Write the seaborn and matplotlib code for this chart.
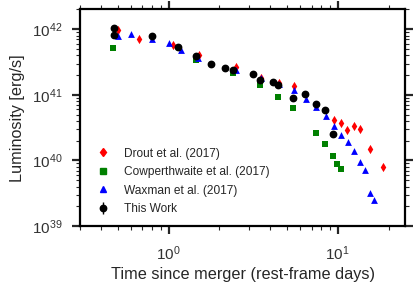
import numpy as np
import pandas as pd
import matplotlib
matplotlib.use("Agg")
import matplotlib.pyplot as plt
import seaborn as sns
from matplotlib.lines import Line2D

sns.set_style("ticks")
plt.rcParams["font.family"] = ["Liberation Sans", "DejaVu Sans"]
plt.rcParams["mathtext.fontset"] = "custom"
plt.rcParams["mathtext.rm"] = "Liberation Sans"
plt.rcParams["mathtext.it"] = "Liberation Sans:italic"
plt.rcParams["mathtext.bf"] = "Liberation Sans:bold"

# Drout et al. (2017)
drout_t = [0.50, 0.67, 1.06, 1.52, 2.52, 3.50, 4.50, 5.51, 9.47, 10.5, 11.4, 12.4, 13.5, 15.5, 18.4]
drout_L = [9.7e41, 7.2e41, 5.8e41, 4.1e41, 2.65e41, 1.83e41, 1.51e41, 1.35e41, 4.2e40, 3.7e40,
           2.87e40, 3.4e40, 3.05e40, 1.5e40, 7.8e39]

# Cowperthwaite et al. (2017)
cowp_t = [0.468, 1.46, 2.42, 3.45, 4.43, 5.44, 7.41, 8.46, 9.38, 9.96, 10.5]
cowp_L = [5.25e41, 3.37e41, 2.15e41, 1.40e41, 9.2e40, 6.2e40, 2.6e40, 1.8e40, 1.16e40, 8.7e39, 7.3e39]

# Waxman et al. (2017)
wax_t = [0.50, 0.60, 0.80, 1.0, 1.19, 1.50, 2.49, 3.50, 4.50, 5.51, 6.47, 7.48, 8.49, 9.51,
         10.5, 11.5, 12.5, 13.5, 14.45, 15.5, 16.4]
wax_L = [7.8e41, 8.4e41, 7.2e41, 6.2e41, 4.9e41, 3.6e41, 2.37e41, 1.83e41, 1.45e41, 1.17e41,
         8.7e40, 6.5e40, 4.7e40, 3.3e40, 2.4e40, 1.9e40, 1.37e40, 9.5e39, 7.2e39, 3.2e39, 2.5e39]

# This Work
this_t = [0.473, 0.473, 0.796, 1.135, 1.46, 1.77, 2.17, 2.42, 3.15, 3.45, 4.14, 4.43, 5.44,
          6.38, 7.41, 8.38, 9.38]
this_L = [1.05e42, 8.3e41, 7.8e41, 5.3e41, 3.9e41, 3.0e41, 2.6e41, 2.37e41, 2.05e41, 1.66e41,
          1.57e41, 1.40e41, 9.1e40, 1.02e41, 7.2e40, 5.8e40, 2.57e40]
this_err = [0.06 * v for v in this_L]

fig = plt.figure(figsize=(4.15, 2.91), dpi=100)
ax = fig.add_axes([0.193, 0.2234, 0.783, 0.744])

sns.scatterplot(x=drout_t, y=drout_L, marker="d", color="red", s=22, linewidth=0, ax=ax)
sns.scatterplot(x=cowp_t, y=cowp_L, marker="s", color="green", s=20, linewidth=0, ax=ax)
sns.scatterplot(x=wax_t, y=wax_L, marker="^", color="blue", s=24, linewidth=0, ax=ax)
ax.errorbar(this_t, this_L, yerr=this_err, fmt="o", color="black", ms=4.6,
            elinewidth=1, capsize=0)

ax.set_xscale("log")
ax.set_yscale("log")
ax.set_xlim(0.3, 25)
ax.set_ylim(1e39, 2e42)

ax.set_xlabel("Time since merger (rest-frame days)", fontsize=11.7, labelpad=3)
ax.set_ylabel("Luminosity [erg/s]", fontsize=11.7, labelpad=5)

for sp in ax.spines.values():
    sp.set_visible(True)
    sp.set_linewidth(1.6)
    sp.set_color("black")
ax.tick_params(which="both", direction="out", top=True, right=True, labelsize=11,
               labelcolor="#333333")
ax.tick_params(which="major", length=6, width=1.6, pad=7)
ax.tick_params(which="minor", length=3, width=0.8)

handles = [
    Line2D([], [], marker="d", color="red", ls="none", ms=4.5),
    Line2D([], [], marker="s", color="green", ls="none", ms=4.2),
    Line2D([], [], marker="^", color="blue", ls="none", ms=4.8),
    ax.containers[-1],
]
labels = ["Drout et al. (2017)", "Cowperthwaite et al. (2017)", "Waxman et al. (2017)", "This Work"]
ax.legend(handles, labels, loc="lower left", frameon=False, fontsize=8.6, numpoints=1,
          handletextpad=0.8, labelspacing=0.55)

fig.savefig("out.png", dpi=100)
